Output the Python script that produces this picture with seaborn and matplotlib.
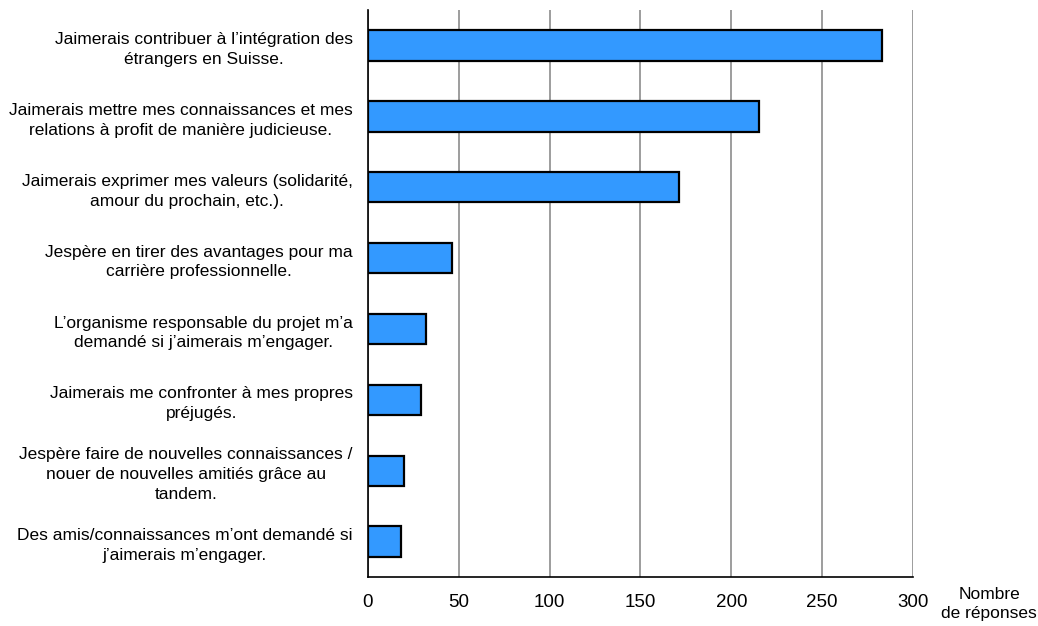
import seaborn as sns
import pandas as pd
import numpy as np
import matplotlib.pyplot as plt

# Motivations (labels as printed in the source chart)
motifs = [
    "Jaimerais contribuer à l’intégration des\nétrangers en Suisse.",
    "Jaimerais mettre mes connaissances et mes\nrelations à profit de manière judicieuse.",
    "Jaimerais exprimer mes valeurs (solidarité,\namour du prochain, etc.).",
    "Jespère en tirer des avantages pour ma\ncarrière professionnelle.",
    "L’organisme responsable du projet m’a\ndemandé si j’aimerais m’engager.",
    "Jaimerais me confronter à mes propres\npréjugés.",
    "Jespère faire de nouvelles connaissances /\nnouer de nouvelles amitiés grâce au\ntandem.",
    "Des amis/connaissances m’ont demandé si\nj’aimerais m’engager.",
]
reponses = [283, 215, 171, 46, 32, 29, 20, 18]
xticks = [0, 50, 100, 150, 200, 250, 300]

df = pd.DataFrame({'motif': motifs, 'n': reponses})

sns.set_style('white')
plt.rcParams['font.family'] = ['Liberation Sans', 'DejaVu Sans']
plt.rcParams['text.color'] = 'black'
plt.rcParams['xtick.color'] = 'black'
plt.rcParams['ytick.color'] = 'black'

fig = plt.figure(figsize=(10.38, 6.26), dpi=100)
ax = fig.add_axes([0.3545, 0.078, 0.525, 0.906])

sns.barplot(data=df, x='n', y='motif', orient='h', color='#3399FF', saturation=1,
            width=0.43, edgecolor='black', linewidth=1.6, ax=ax, zorder=3)

ax.set_xlim(0, 300)
ax.set_ylim(7.5, -0.5)
ax.set_xticks(xticks)
ax.set_xticklabels([str(t) for t in xticks], fontsize=13.5)
ax.xaxis.grid(True, color='#8c8c8c', linewidth=1.2, zorder=0)
ax.yaxis.grid(False)

# tick marks between categories on the left axis
ax.set_yticks(np.arange(-0.5, 8, 1), minor=True)
ax.tick_params(axis='y', which='major', length=0, pad=11, labelsize=12.5)
ax.tick_params(axis='y', which='minor', length=5, width=1.2, color='black', direction='out')
ax.tick_params(axis='x', length=5, width=1.2, color='black', direction='out', pad=7)
for lab in ax.get_yticklabels():
    lab.set_multialignment('center')
    lab.set_linespacing(1.4)
    lab.set_color('black')

for s in ['top', 'right']:
    ax.spines[s].set_visible(False)
for s in ['left', 'bottom']:
    ax.spines[s].set_color('black')
    ax.spines[s].set_linewidth(1.2)

ax.set_xlabel('')
ax.set_ylabel('')
fig.text(0.953, 0.035, "Nombre\nde réponses", ha='center', va='center', fontsize=12.5,
         linespacing=1.35, color='black')

fig.savefig('out.png', dpi=100)
